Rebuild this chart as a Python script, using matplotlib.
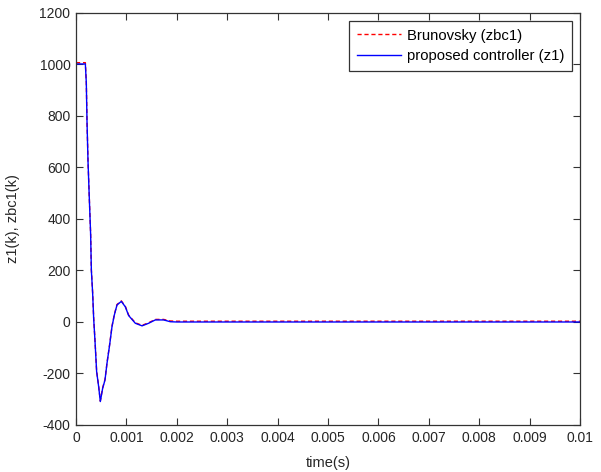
import matplotlib.pyplot as plt
import numpy as np

# values
t = [0, 0.000185, 0.000204, 0.000218, 0.000238, 0.000264, 0.000290, 0.000304,
     0.000330, 0.000350, 0.000377, 0.000409, 0.000449, 0.000482, 0.000528,
     0.000575, 0.000615, 0.000667, 0.000714, 0.000760, 0.000813, 0.000899,
     0.000978, 0.001044, 0.001177, 0.001310, 0.001440, 0.001573, 0.001738,
     0.001871, 0.002000, 0.01]
z1 = [1002, 1002, 929, 778, 623, 478, 340, 202, 111, 14, -76, -193, -251, -309,
      -258, -225, -160, -89, -18, 27, 66, 80, 59, 25, -5, -15, -5, 8, 8, 1, 0, 0]
zbc1 = [1007, 1007, 931, 780, 625, 480, 342, 204, 113, 16, -74, -191, -249, -307,
        -256, -223, -158, -87, -16, 29, 68, 82, 61, 27, -3, -13, -3, 10, 10, 4, 3, 3]

xticks = [0, 0.001, 0.002, 0.003, 0.004, 0.005, 0.006, 0.007, 0.008, 0.009, 0.01]
xticklabels = ['0', '0.001', '0.002', '0.003', '0.004', '0.005', '0.006',
               '0.007', '0.008', '0.009', '0.01']
yticks = [-400, -200, 0, 200, 400, 600, 800, 1000, 1200]

plt.rcParams['font.family'] = ['Liberation Sans', 'DejaVu Sans']
plt.rcParams['font.size'] = 10
plt.rcParams['axes.unicode_minus'] = False

fig = plt.figure(figsize=(6.01, 4.72), dpi=100)
ax = fig.add_axes([0.1265, 0.0996, 0.8385, 0.8729])

ax.plot(t, zbc1, color='red', ls=(0, (3, 2)), lw=1.0, label='Brunovsky (zbc1)')
ax.plot(t, z1, color='blue', lw=1.0, label='proposed controller (z1)')

ax.set_xlim(0, 0.01)
ax.set_ylim(-400, 1200)
ax.set_xticks(xticks)
ax.set_xticklabels(xticklabels)
ax.set_yticks(yticks)
ax.tick_params(direction='in', top=True, right=True, length=5, width=0.8,
               colors='#333333', labelcolor='#262626', pad=4)
for s in ax.spines.values():
    s.set_color('#333333')
    s.set_linewidth(0.9)

ax.set_xlabel('time(s)', color='#262626', labelpad=8, fontsize=10.5)
ax.set_ylabel('z1(k), zbc1(k)', color='#262626', labelpad=14, fontsize=10.5)

leg = ax.legend(loc='upper right', bbox_to_anchor=(0.9845, 0.98), fancybox=False,
                framealpha=1, edgecolor='#333333', handlelength=3.0,
                borderpad=0.5, labelspacing=0.45, handletextpad=0.4,
                borderaxespad=0.0, prop={'size': 10.7})
leg.get_frame().set_linewidth(0.9)

fig.savefig('out.png', dpi=100)
